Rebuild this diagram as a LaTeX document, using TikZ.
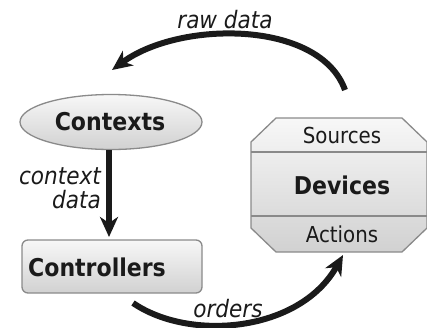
\documentclass[tikz,border=0pt]{standalone}
\usepackage{fontspec}
\setmainfont{DejaVu Sans Condensed}
\usetikzlibrary{shapes.geometric,arrows.meta}
\definecolor{edgegray}{HTML}{8A8A8A}
\definecolor{ink}{HTML}{1A1A1A}
\tikzset{
  boxshade/.style={draw=edgegray, line width=1.3pt, top color=white!97!black, bottom color=white!82!black},
  mainlabel/.style={font=\fontsize{24.5}{28}\selectfont\bfseries, text=ink, inner sep=0pt},
  sublabel/.style={font=\fontsize{22}{25}\selectfont, text=ink, inner sep=0pt},
  flowlabel/.style={font=\fontsize{24}{27}\selectfont\itshape, text=ink, inner sep=0pt},
  flow/.style={line width=6pt, ink, -{Stealth[length=20pt, width=18pt, inset=6pt]}},
}
\begin{document}
\begin{tikzpicture}[x=1pt, y=-1pt]
\useasboundingbox (0,0) rectangle (427,327);
% Contexts
\node[ellipse, boxshade, minimum width=182pt, minimum height=55pt, inner sep=0pt] (ctx) at (111,122) {};
\node[mainlabel] (ctxlabel) at (110,122) {Contexts};
% Controllers
\node[boxshade, rounded corners=6pt, minimum width=180pt, minimum height=53pt, inner sep=0pt] (ctl) at (112,266.5) {};
\node[mainlabel] (ctllabel) at (97,267) {Controllers};
% Devices octagon
\coordinate (d1) at (276,118);
\coordinate (d2) at (402,118);
\coordinate (d3) at (427,142);
\coordinate (d4) at (427,228);
\coordinate (d5) at (402,252);
\coordinate (d6) at (276,252);
\coordinate (d7) at (251,228);
\coordinate (d8) at (251,142);
\path[boxshade] (d1) -- (d2) -- (d3) -- (d4) -- (d5) -- (d6) -- (d7) -- (d8) -- cycle;
\coordinate (s1) at (251,152);
\coordinate (s2) at (427,152);
\coordinate (a1) at (251,216);
\coordinate (a2) at (427,216);
\draw[edgegray, line width=1.3pt] (s1) -- (s2);
\draw[edgegray, line width=1.3pt] (a1) -- (a2);
\node[sublabel] (src) at (342,135) {Sources};
\node[mainlabel] (dev) at (342,185) {Devices};
\node[sublabel] (act) at (342,234) {Actions};
% connectors
\coordinate (rawstart) at (345,90);
\coordinate (rawend) at (112,70);
\draw[flow] (rawstart) .. controls (320,20) and (180,20) .. (rawend);
\node[flowlabel] (rawlabel) at (225,20) {raw data};
\coordinate (cdstart) at (109,150);
\coordinate (cdend) at (109,237);
\draw[flow] (cdstart) -- (cdend);
\node[flowlabel, align=right, anchor=east] (cdlabel) at (101,188) {context\\[-3pt]data};
\coordinate (ordstart) at (133,303);
\coordinate (ordend) at (343,255);
\draw[flow] (ordstart) .. controls (190,342) and (300,332) .. (ordend);
\node[flowlabel] (ordlabel) at (228,309) {orders};
\end{tikzpicture}
\end{document}
